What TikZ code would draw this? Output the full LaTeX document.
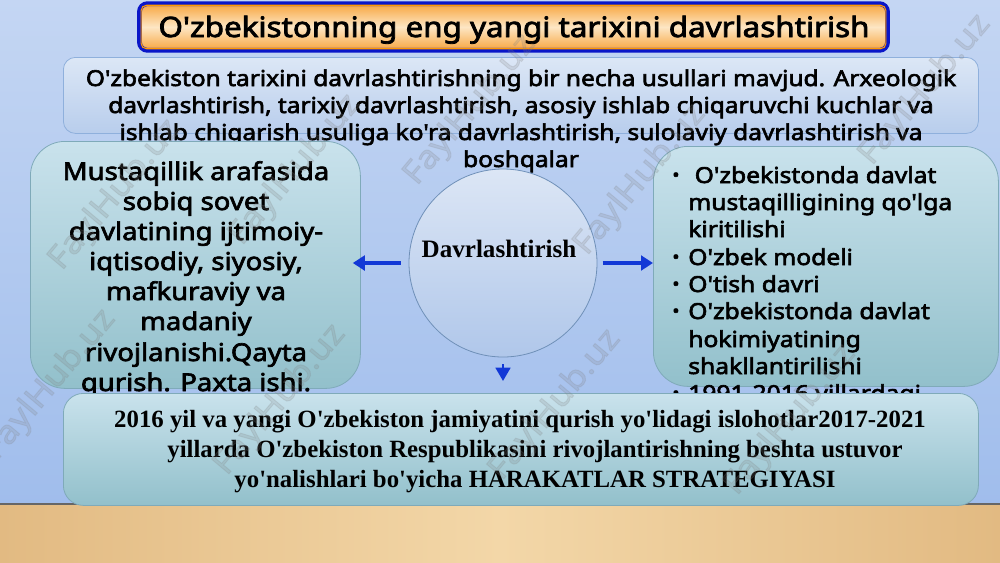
\documentclass[tikz,border=0pt]{standalone}
\usepackage{fontspec}
\setmainfont{Noto Sans}[AutoFakeBold=2.8, FakeStretch=1.12, Ligatures=TeXOff]
\newfontfamily\tnr{Liberation Serif}[Ligatures=TeXOff]
\usetikzlibrary{arrows.meta}
\definecolor{bgtop}{HTML}{C4D6F3}
\definecolor{bgbot}{HTML}{A0BDEC}
\definecolor{wood1}{HTML}{E2BA82}
\definecolor{wood2}{HTML}{F3D7A8}
\definecolor{tboxtop}{HTML}{DCE7F6}
\definecolor{tboxbot}{HTML}{B8CDEC}
\definecolor{tboxline}{HTML}{8FB0DC}
\definecolor{gboxtop}{HTML}{C9E2EC}
\definecolor{gboxbot}{HTML}{92C0CB}
\definecolor{gboxline}{HTML}{7FAAB9}
\definecolor{circtop}{HTML}{DCE6F5}
\definecolor{circbot}{HTML}{B0C7EA}
\definecolor{circline}{HTML}{6F90B8}
\definecolor{arrblue}{HTML}{1238D6}
\definecolor{titleblue}{HTML}{0A16C8}
\definecolor{titleor}{HTML}{F7A53E}
\definecolor{titlelight}{HTML}{FDE6C4}
\tikzset{
  greenbox/.style={draw=gboxline, line width=0.6pt, top color=gboxtop, bottom color=gboxbot, inner sep=0pt},
  sanstext/.style={inner sep=0pt, text=black, font=\bfseries\fontsize{#1}{#1}\selectfont},
  serftext/.style={inner sep=0pt, text=black, font=\tnr\bfseries\fontsize{#1}{#1}\selectfont},
  arr/.style={draw=arrblue, line width=3.6pt, -{Triangle[width=11pt,length=9pt]}},
  wm/.style={inner sep=0pt, text=gray, opacity=0.18, rotate=50, font=\bfseries\fontsize{24pt}{24pt}\selectfont}
}
\begin{document}
\begin{tikzpicture}[x=0.75pt,y=-0.75pt]
\useasboundingbox (0,0) rectangle (1000,562);
% background
\shade[top color=bgtop, bottom color=bgbot] (0,0) rectangle (1000,505);
\shade[left color=wood1, right color=wood1, middle color=wood2] (0,505) rectangle (1000,562);
\fill[black!60] (0,502.5) rectangle (1000,505);
% top text box
\node[draw=tboxline, line width=0.6pt, top color=tboxtop, bottom color=tboxbot, rounded corners=9pt,
      minimum width=686.25pt, minimum height=57pt, anchor=north west, inner sep=0pt] (topbox) at (63,57) {};
\foreach \y/\t [count=\i] in {86/{O'zbekiston tarixini davrlashtirishning bir necha usullari mavjud. Arxeologik},
  113/{davrlashtirish, tarixiy davrlashtirish, asosiy ishlab chiqaruvchi kuchlar va},
  140/{ishlab chiqarish usuliga ko'ra davrlashtirish, sulolaviy davrlashtirish va},
  167/{boshqalar}}
  \node[sanstext=16.4pt, anchor=base] (tt\i) at (521,\y) {\t};
% left box
\node[greenbox, rounded corners=26pt, minimum width=247.5pt, minimum height=185.25pt, anchor=north west] (lbox) at (30,141) {};
\foreach \y/\t [count=\i] in {180/{Mustaqillik arafasida}, 210/{sobiq sovet}, 240/{davlatining ijtimoiy-},
  270/{iqtisodiy, siyosiy,}, 300/{mafkuraviy va}, 330/{madaniy}, 361/{rivojlanishi.Qayta}, 391/{qurish. Paxta ishi.}}
  \node[sanstext=18.4pt, anchor=base] (lt\i) at (196,\y) {\t};
% right box
\node[greenbox, rounded corners=26pt, minimum width=258.75pt, minimum height=180pt, anchor=north west] (rbox) at (653,146) {};
\foreach \y/\t/\b [count=\i] in {183/{\ O'zbekistonda davlat}/1, 210/{mustaqilligining qo'lga}/0, 237/{kiritilishi}/0,
  265/{O'zbek modeli}/1, 292/{O'tish davri}/1, 319/{O'zbekistonda davlat}/1, 347/{hokimiyatining}/0,
  374/{shakllantirilishi}/0, 401/{1991-2016 yillardagi}/1}{
  \node[sanstext=16.5pt, anchor=base west] (rt\i) at (688,\y) {\t};
  \ifnum\b=1 \node[sanstext=13pt, anchor=base west] (rb\i) at (672,\y-2) {\textbullet};\fi
}
% circle
\node[circle, draw=circline, line width=0.6pt, top color=circtop, bottom color=circbot, minimum size=141pt, inner sep=0pt] (circ) at (503,263) {};
\node[serftext=18.8pt, anchor=base] (ctext) at (499,257) {Davrlashtirish};
% bottom box
\node[greenbox, rounded corners=15pt, minimum width=686.25pt, minimum height=84pt, anchor=north west] (bbox) at (63,393) {};
\node[serftext=18.6pt, anchor=base] (bt1) at (520,427) {2016 yil va yangi O'zbekiston jamiyatini qurish yo'lidagi islohotlar2017-2021};
\node[serftext=18.6pt, anchor=base] (bt2) at (535,457) {yillarda O'zbekiston Respublikasini rivojlantirishning beshta ustuvor};
\node[serftext=18.6pt, anchor=base] (bt3) at (535,487) {yo'nalishlari bo'yicha HARAKATLAR STRATEGIYASI};
% arrows
\draw[arr] ([xshift=-6pt]circ.west) -- ([xshift=-6pt]lbox.east |- circ.west);
\draw[arr] ([xshift=4pt]circ.east) -- (rbox.west |- circ.east);
\draw[arr, line width=2pt, -{Triangle[width=11pt,length=10pt]}] ([yshift=-5pt]circ.south) -- ([yshift=9pt]bbox.north -| circ.south);
% title
\node[draw=titleblue, line width=3.6pt, rounded corners=6pt, top color=titleor, bottom color=titleor, middle color=titlelight,
      minimum width=561pt, minimum height=35pt, inner sep=0pt] (title) at (513.5,27) {};
\draw[draw=orange!80!yellow, line width=0.8pt, rounded corners=4pt] ([shift={(3pt,-3pt)}]title.north west) rectangle ([shift={(-3pt,3pt)}]title.south east);
\node[sanstext=21pt, anchor=base] (ttl) at (514,37) {O'zbekistonning eng yangi tarixini davrlashtirish};
% watermarks
\node[wm] (w1) at (115,195) {FaylHub.uz};
\node[wm] (w2) at (295,170) {FaylHub.uz};
\node[wm] (w3) at (470,110) {FaylHub.uz};
\node[wm] (w4) at (640,180) {FaylHub.uz};
\node[wm] (w5) at (925,90) {FaylHub.uz};
\node[wm] (w6) at (50,385) {FaylHub.uz};
\node[wm] (w7) at (280,400) {FaylHub.uz};
\node[wm] (w8) at (555,405) {FaylHub.uz};
\node[wm] (w9) at (790,420) {FaylHub.uz};
\end{tikzpicture}
\end{document}
